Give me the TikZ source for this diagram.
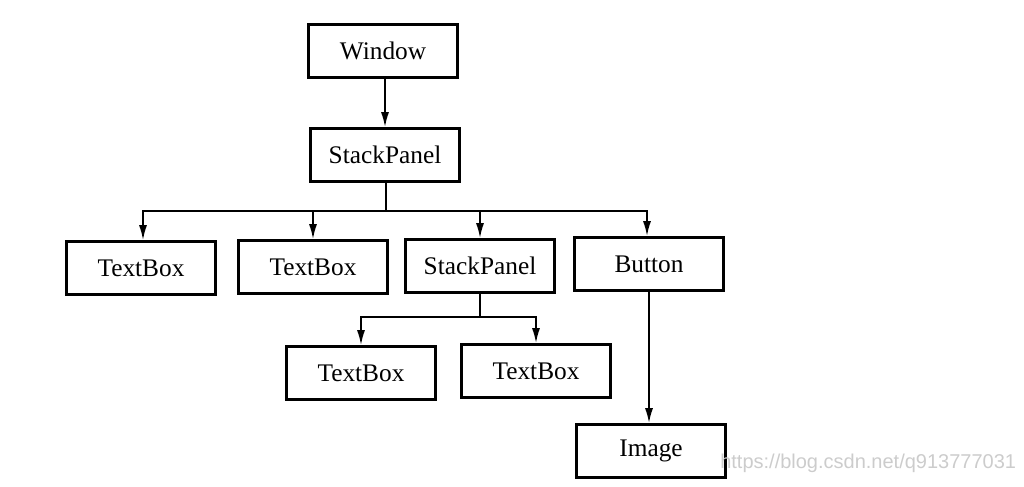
\documentclass[tikz,border=0pt]{standalone}
\usepackage{fontspec}
\setmainfont{Liberation Serif}
\newfontfamily\wmfont{Liberation Sans}
\usetikzlibrary{arrows.meta}
\begin{document}
\begin{tikzpicture}[x=0.75pt,y=-0.75pt,
  box/.style={draw, line width=2.2pt, minimum width=112pt, minimum height=40pt, inner sep=0pt,
    font=\fontsize{19}{22}\selectfont},
  conn/.style={line width=1.1pt},
  arr/.style={conn, -{Latex[length=11pt,width=6pt]}},
  wm/.style={text=black!20, font=\wmfont\fontsize{15}{18}\selectfont, anchor=west, inner sep=0pt}]
\useasboundingbox (0,0) rectangle (1024,486);
\node[box] (win) at (383,51) {Window};
\node[box] (sp1) at (385,155) {StackPanel};
\node[box] (tb1) at (141,268) {TextBox};
\node[box] (tb2) at (313,267) {TextBox};
\node[box] (sp2) at (480,266) {StackPanel};
\node[box] (btn) at (649,264) {Button};
\node[box] (tb3) at (361,373) {TextBox};
\node[box] (tb4) at (536,371) {TextBox};
\node[box] (img) at (651,451) {Image};
\coordinate (bus) at (386,211);
\coordinate (bus2) at (480,317);
\draw[arr] (win.south -| sp1.north) -- (sp1.north);
\draw[conn] (sp1.south -| bus) -- (bus);
\draw[arr] (bus) -| ([xshift=1.5pt]tb1.north);
\draw[arr] (bus) -| (tb2.north);
\draw[arr] (bus) -| (sp2.north);
\draw[arr] (bus) -| ([xshift=-1.5pt]btn.north);
\draw[conn] (sp2.south) -- (bus2);
\draw[arr] (bus2) -| (tb3.north);
\draw[arr] (bus2) -| (tb4.north);
\draw[arr] (btn.south) -- (btn.south |- img.north);
\node[wm] (wmark) at (720,463) {https://blog.csdn.net/q913777031};
\end{tikzpicture}
\end{document}
